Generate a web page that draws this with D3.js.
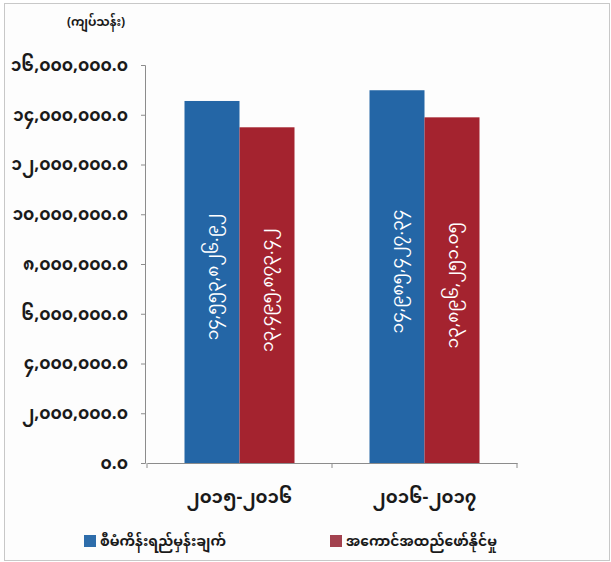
<!DOCTYPE html>
<html>
<head>
<meta charset="utf-8">
<script src="https://cdn.jsdelivr.net/npm/d3@7"></script>
<style>
  body { margin: 0; background: #fff; }
  svg text { font-family: "Noto Sans Myanmar", "Padauk", "Myanmar Text", "Noto Sans", sans-serif; }
</style>
</head>
<body>
<div id="chart"></div>
<script>
// values, estimates
const categories = ["၂၀၁၅-၂၀၁၆", "၂၀၁၆-၂၀၁၇"];
const seriesNames = ["စီမံကိန်းရည်မှန်းချက်", "အကောင်အထည်ဖော်နိုင်မှု"];
const planned = [14553826.92, 14985427.34];
const actual = [13495873.42, 13896251.05];
const yTicks = [0, 2000000, 4000000, 6000000, 8000000, 10000000, 12000000, 14000000, 16000000];
const unitLabel = "(ကျပ်သန်း)";

const colors = ["#2466a6", "#a4232f"];
const legendColors = ["#2e6dab", "#a3424f"];

const myDigits = "၀၁၂၃၄၅၆၇၈၉";
function toMy(s) {
    return String(s).replace(/[0-9]/g, d => myDigits[+d]);
}
const fmt1 = d3.format(",.1f");
const fmt2 = d3.format(",.2f");

const width = 611, height = 562;
const margin = {top: 65, right: 94, bottom: 100, left: 147};

const svg = d3.select('#chart')
    .append('svg')
    .attr('width', width)
    .attr('height', height);

// outer frame of the chart area
svg.append('rect')
    .attr('x', 4.5).attr('y', 3.5)
    .attr('width', width - 6).attr('height', height - 5)
    .attr('fill', '#fdfdfd')
    .attr('stroke', '#c8c8c8');

let x = d3.scaleBand()
    .domain(categories)
    .range([margin.left, width - margin.right]);

let xInner = d3.scaleBand()
    .domain([0, 1])
    .range([0, 110]);

let y = d3.scaleLinear()
    .domain([0, 16000000])
    .range([height - margin.bottom + 1, margin.top]);

const data = categories.map((c, i) => ({cat: c, vals: [planned[i], actual[i]]}));

// y axis
let yAxis = svg.append('g')
    .attr('transform', `translate(${margin.left - 2},0)`)
    .call(d3.axisLeft(y).tickValues(yTicks).tickSize(4).tickFormat(d => toMy(fmt1(d))));
yAxis.select('.domain').attr('stroke', '#8c8c8c');
yAxis.selectAll('.tick line').attr('stroke', '#8c8c8c');
yAxis.selectAll('.tick text')
    .attr('x', -17)
    .attr('fill', '#1a1a1a')
    .style('font-size', '17px')
    .style('font-weight', 'bold');

// x axis
let xAxis = svg.append('g')
    .attr('transform', `translate(0,${y(0)})`)
    .call(d3.axisBottom(x).tickSize(0).tickFormat(''));
xAxis.select('.domain').attr('stroke', '#8c8c8c');

// category separators
svg.selectAll('.xsep')
    .data([margin.left, x(categories[1]), width - margin.right])
    .enter().append('line')
    .attr('x1', d => d).attr('x2', d => d)
    .attr('y1', y(0)).attr('y2', y(0) + 5)
    .attr('stroke', '#8c8c8c');

svg.selectAll('.xlabel')
    .data(categories)
    .enter().append('text')
    .attr('x', d => x(d) + x.bandwidth() / 2)
    .attr('y', y(0) + 40)
    .attr('text-anchor', 'middle')
    .attr('fill', '#1a1a1a')
    .style('font-size', '18px')
    .style('font-weight', 'bold')
    .text(d => d);

// unit label
svg.append('text')
    .attr('x', 96)
    .attr('y', 26)
    .attr('text-anchor', 'middle')
    .attr('fill', '#1a1a1a')
    .style('font-size', '12px')
    .style('font-weight', 'bold')
    .text(unitLabel);

// bars
let groups = svg.selectAll('.grp')
    .data(data)
    .enter().append('g')
    .attr('transform', d => `translate(${x(d.cat) + (x.bandwidth() - 110) / 2},0)`);

groups.selectAll('rect')
    .data(d => d.vals)
    .enter().append('rect')
    .attr('x', (d, i) => xInner(i))
    .attr('y', d => y(d))
    .attr('width', xInner.bandwidth())
    .attr('height', d => y(0) - y(d))
    .attr('fill', (d, i) => colors[i]);

groups.selectAll('.vlabel')
    .data(d => d.vals)
    .enter().append('text')
    .attr('transform', (d, i) => `translate(${xInner(i) + xInner.bandwidth() / 2},${(y(d) + y(0)) / 2 - 5}) rotate(-90)`)
    .attr('text-anchor', 'middle')
    .attr('dy', '0.35em')
    .attr('fill', '#ffffff')
    .style('font-size', '17px')
    .text(d => toMy(fmt2(d)));

// legend
let legend = svg.selectAll('.legend')
    .data(seriesNames)
    .enter().append('g')
    .attr('transform', (d, i) => `translate(${i === 0 ? 84 : 330},535)`);

legend.append('rect')
    .attr('width', 12).attr('height', 12)
    .attr('fill', (d, i) => legendColors[i]);

legend.append('text')
    .attr('x', 16)
    .attr('y', 6)
    .attr('dy', '0.35em')
    .attr('fill', '#1a1a1a')
    .style('font-size', '14px')
    .style('font-weight', 'bold')
    .text(d => d);
</script>
</body>
</html>
